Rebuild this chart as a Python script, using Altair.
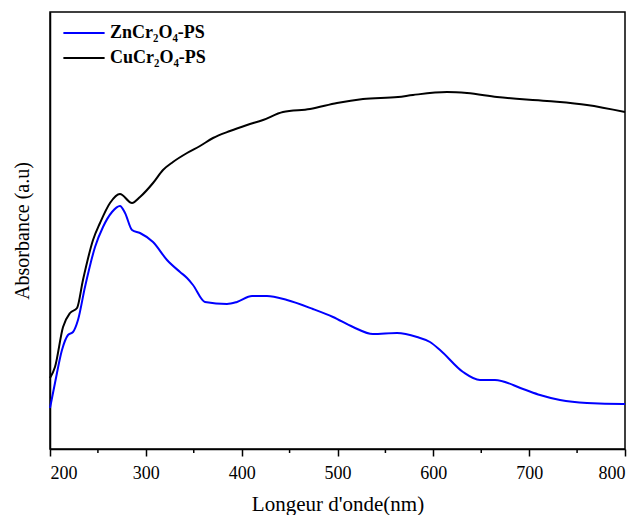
import altair as alt
import pandas as pd

# Wavelengths (nm) and absorbance (a.u.)
cu_nm = [200, 205.2, 213.6, 220.9, 228.2, 234.4, 244.9, 252.2, 262.6, 273.0, 285.6, 293.9,
         307.5, 317.9, 328.3, 343.0, 356.5, 370.1, 387.8, 405.6, 422.3, 443.1, 471.3, 499.5,
         526.6, 563.1, 578.8, 614.3, 635.1, 666.4, 718.6, 760.3, 800]
cu_abs = [0.80, 0.91, 1.31, 1.45, 1.50, 1.78, 2.18, 2.35, 2.55, 2.64, 2.55, 2.61,
          2.75, 2.88, 2.96, 3.05, 3.12, 3.20, 3.27, 3.33, 3.38, 3.46, 3.49, 3.55,
          3.59, 3.61, 3.63, 3.66, 3.65, 3.61, 3.57, 3.53, 3.46]

zn_nm = [200, 205.2, 212.5, 218.8, 224.0, 229.2, 236.5, 247.0, 255.3, 264.7, 273.0, 278.3,
         285.6, 293.9, 307.5, 322.1, 335.7, 343.0, 349.2, 361.7, 384.7, 395.1, 410.8, 426.4,
         447.3, 474.4, 495.3, 516.2, 537.0, 562.1, 583.0, 596.5, 607.0, 631.0, 648.7, 664.3,
         693.6, 711.3, 732.2, 760.3, 797.9, 800]
zn_abs = [0.50, 0.75, 1.08, 1.23, 1.26, 1.38, 1.71, 2.11, 2.31, 2.46, 2.52, 2.45,
          2.28, 2.25, 2.16, 1.98, 1.86, 1.80, 1.73, 1.56, 1.54, 1.56, 1.62, 1.62,
          1.58, 1.49, 1.41, 1.31, 1.24, 1.25, 1.21, 1.16, 1.08, 0.86, 0.78, 0.78,
          0.69, 0.63, 0.58, 0.55, 0.54, 0.54]

series = ["ZnCr\u2082O\u2084-PS", "CuCr\u2082O\u2084-PS"]
colors = ["#0000FF", "#000000"]
minor_ticks = [250, 350, 450, 550, 650, 750]

df = pd.concat([
    pd.DataFrame({"nm": zn_nm, "abs": zn_abs, "s": series[0], "o": 0}),
    pd.DataFrame({"nm": cu_nm, "abs": cu_abs, "s": series[1], "o": 1}),
])

font = "Liberation Serif"
xscale = alt.Scale(domain=[200, 800], nice=False)

lines = alt.Chart(df).mark_line(strokeWidth=2, interpolate="monotone").encode(
    x=alt.X("nm:Q", scale=xscale,
            axis=alt.Axis(title="Longeur d'onde(nm)", values=list(range(200, 801, 100)),
                          grid=False, tickSize=7, tickColor="black", tickWidth=1.5,
                          domainColor="black", domainWidth=1.5,
                          labelFont=font, labelFontSize=18, labelColor="black", labelPadding=8,
                          titleFont=font, titleFontSize=21, titleFontWeight="normal",
                          titleColor="black", titlePadding=11)),
    y=alt.Y("abs:Q", scale=alt.Scale(domain=[0.09, 4.46], nice=False, zero=False),
            axis=alt.Axis(title="Absorbance (a.u)", labels=False, ticks=False, grid=False,
                          domainColor="black", domainWidth=1.5,
                          titleFont=font, titleFontSize=20, titleFontWeight="normal",
                          titleColor="black", titlePadding=18)),
    color=alt.Color("s:N", scale=alt.Scale(domain=series, range=colors),
                    legend=alt.Legend(title=None, orient="none", legendX=12, legendY=11,
                                      symbolType="stroke", symbolSize=1700,
                                      symbolStrokeWidth=2, labelFont=font,
                                      labelFontSize=18, labelFontWeight="bold",
                                      labelColor="black", clipHeight=20, rowPadding=5,
                                      padding=0, labelOffset=4)),
    order="o:Q",
    detail="s:N",
)

minor = alt.Chart(pd.DataFrame({"nm": minor_ticks})).mark_rule(
    color="black", strokeWidth=1.5
).encode(
    x=alt.X("nm:Q", scale=xscale),
    y=alt.value(437),
    y2=alt.value(441),
)

chart = alt.layer(lines, minor).properties(
    width=575, height=437,
    autosize=alt.AutoSizeParams(type="none"),
    padding={"left": 42, "top": 4, "right": 9, "bottom": 66},
).configure_view(stroke="black", strokeWidth=1.5)

chart.save("out.html", embed_options={"renderer": "svg", "actions": False})
